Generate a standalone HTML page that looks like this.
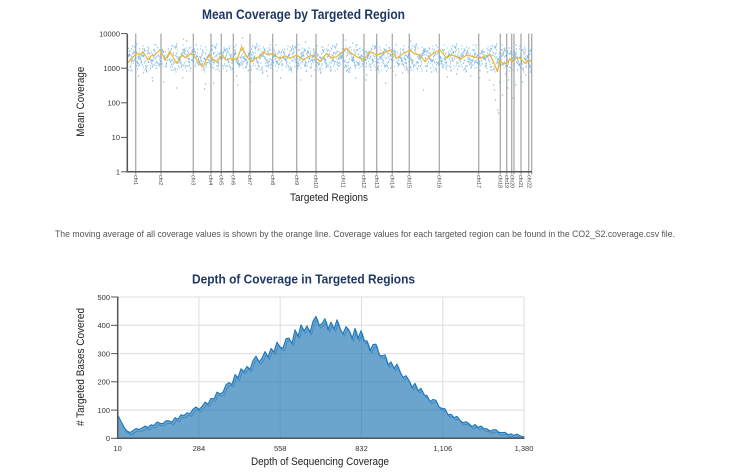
<!DOCTYPE html>
<html><head><meta charset="utf-8">
<style>
html,body{margin:0;padding:0;background:#fff;}
svg{display:block;font-family:"Liberation Sans",Arial,sans-serif;}
</style></head>
<body>
<svg width="736" height="475" viewBox="0 0 736 475" xmlns="http://www.w3.org/2000/svg">
<defs>
<pattern id="pA" patternUnits="userSpaceOnUse" x="127" y="36" width="40" height="44">
<path fill="none" stroke="#6aaee0" stroke-opacity="0.85" stroke-width="1.2" d="M0 21h1.2M17 14h1.2M34 25h1.2M11 30h1.2M28 18h1.2M5 10h1.2M22 23h1.2M39 27h1.2M16 16h1.2M33 22h1.2M10 33h1.2M27 19h1.2M4 13h1.2M21 26h1.2M38 24h1.2M15 17h1.2M32 28h1.2M9 8h1.2M26 21h1.2M3 31h1.2M20 15h1.2M37 23h1.2M14 20h1.2M31 29h1.2M8 12h1.2M25 25h1.2M2 18h1.2M19 35h1.2M36 16h1.2M13 22h1.2M30 27h1.2M7 11h1.2M24 24h1.2M1 19h1.2M18 30h1.2M35 14h1.2M12 21h1.2M29 26h1.2M6 17h1.2M23 32h1.2M0.5 20h1.2M17.5 15h1.2M34.5 28h1.2M11.5 23h1.2M28.5 9h1.2M5.5 25h1.2M22.5 18h1.2M39.5 29h1.2M16.5 13h1.2M33.5 22h1.2M10.5 27h1.2M27.5 16h1.2M4.5 24h1.2M21.5 12h1.2M38.5 31h1.2M15.5 19h1.2M32.5 21h1.2M9.5 26h1.2M26.5 14h1.2M3.5 34h1.2M20.5 17h1.2M37.5 23h1.2M14.5 20h1.2M31.5 28h1.2M8.5 10h1.2M25.5 24h1.2M2.5 15h1.2M19.5 30h1.2M36.5 22h1.2M13.5 18h1.2"/>
</pattern>
<pattern id="pB" patternUnits="userSpaceOnUse" x="140" y="36" width="29" height="44">
<path fill="none" stroke="#6aaee0" stroke-opacity="0.85" stroke-width="1.2" transform="matrix(0.725 0 0 -1 0 44)" d="M0 21h1.2M17 14h1.2M34 25h1.2M11 30h1.2M28 18h1.2M5 10h1.2M22 23h1.2M39 27h1.2M16 16h1.2M33 22h1.2M10 33h1.2M27 19h1.2M4 13h1.2M21 26h1.2M38 24h1.2M15 17h1.2M32 28h1.2M9 8h1.2M26 21h1.2M3 31h1.2M20 15h1.2M37 23h1.2M14 20h1.2M31 29h1.2M8 12h1.2M25 25h1.2M2 18h1.2M19 35h1.2M36 16h1.2M13 22h1.2M30 27h1.2M7 11h1.2M24 24h1.2M1 19h1.2M18 30h1.2M35 14h1.2M12 21h1.2M29 26h1.2M6 17h1.2M23 32h1.2M0.5 20h1.2M17.5 15h1.2M34.5 28h1.2M11.5 23h1.2M28.5 9h1.2M5.5 25h1.2M22.5 18h1.2M39.5 29h1.2M16.5 13h1.2M33.5 22h1.2M10.5 27h1.2M27.5 16h1.2M4.5 24h1.2M21.5 12h1.2M38.5 31h1.2M15.5 19h1.2M32.5 21h1.2M9.5 26h1.2M26.5 14h1.2M3.5 34h1.2M20.5 17h1.2M37.5 23h1.2M14.5 20h1.2M31.5 28h1.2M8.5 10h1.2M25.5 24h1.2M2.5 15h1.2M19.5 30h1.2M36.5 22h1.2M13.5 18h1.2"/>
</pattern>
<pattern id="pC" patternUnits="userSpaceOnUse" x="133" y="36" width="33" height="44">
<path fill="none" stroke="#6aaee0" stroke-opacity="0.8" stroke-width="1.2" transform="matrix(-0.825 0 0 0.85 33 4.3)" d="M0 21h1.2M17 14h1.2M34 25h1.2M11 30h1.2M28 18h1.2M5 10h1.2M22 23h1.2M39 27h1.2M16 16h1.2M33 22h1.2M10 33h1.2M27 19h1.2M4 13h1.2M21 26h1.2M38 24h1.2M15 17h1.2M32 28h1.2M9 8h1.2M26 21h1.2M3 31h1.2M20 15h1.2M37 23h1.2M14 20h1.2M31 29h1.2M8 12h1.2M25 25h1.2M2 18h1.2M19 35h1.2M36 16h1.2M13 22h1.2M30 27h1.2M7 11h1.2M24 24h1.2M1 19h1.2M18 30h1.2M35 14h1.2M12 21h1.2M29 26h1.2M6 17h1.2M23 32h1.2"/>
</pattern>
</defs>
<rect width="736" height="475" fill="#fff"/>

<!-- ===== TOP CHART ===== -->
<text x="202" y="19" font-size="13.5" font-weight="bold" fill="#1f3864" textLength="203" lengthAdjust="spacingAndGlyphs">Mean Coverage by Targeted Region</text>

<g stroke="#aaaaaa" stroke-width="1.3">
<line x1="135.7" y1="33.6" x2="135.7" y2="174.5"/>
<line x1="161" y1="33.6" x2="161" y2="174.5"/>
<line x1="193.3" y1="33.6" x2="193.3" y2="174.5"/>
<line x1="211" y1="33.6" x2="211" y2="174.5"/>
<line x1="221.3" y1="33.6" x2="221.3" y2="174.5"/>
<line x1="233.3" y1="33.6" x2="233.3" y2="174.5"/>
<line x1="250" y1="33.6" x2="250" y2="174.5"/>
<line x1="272.7" y1="33.6" x2="272.7" y2="174.5"/>
<line x1="296.7" y1="33.6" x2="296.7" y2="174.5"/>
<line x1="316" y1="33.6" x2="316" y2="174.5"/>
<line x1="343.2" y1="33.6" x2="343.2" y2="174.5"/>
<line x1="364" y1="33.6" x2="364" y2="174.5"/>
<line x1="376.7" y1="33.6" x2="376.7" y2="174.5"/>
<line x1="392.3" y1="33.6" x2="392.3" y2="174.5"/>
<line x1="409.3" y1="33.6" x2="409.3" y2="174.5"/>
<line x1="439.3" y1="33.6" x2="439.3" y2="174.5"/>
<line x1="478.7" y1="33.6" x2="478.7" y2="174.5"/>
<line x1="500.3" y1="33.6" x2="500.3" y2="174.5"/>
<line x1="506.7" y1="33.6" x2="506.7" y2="174.5"/>
<line x1="511.7" y1="33.6" x2="511.7" y2="174.5"/>
<line x1="514" y1="33.6" x2="514" y2="174.5"/>
<line x1="521" y1="33.6" x2="521" y2="174.5"/>
<line x1="528.7" y1="33.6" x2="528.7" y2="174.5"/>
<line x1="531.7" y1="33.6" x2="531.7" y2="174.5"/>
</g>

<rect x="127.5" y="36" width="404.5" height="44" fill="url(#pA)"/>
<rect x="127.5" y="36" width="404.5" height="44" fill="url(#pB)"/>
<rect x="127.5" y="36" width="404.5" height="44" fill="url(#pC)"/>
<path fill="none" stroke="#6aaee0" stroke-opacity="0.85" stroke-width="1.2" d="M151.7 78h1.2M176 88h1.2M152 81h1.2M143 73h1.2M205 84h1.2M204 89h1.2M213 83h1.2M236 76h1.2M233 80h1.2M182 78h1.2M237 85h1.2M494 90h1.2M495 100h1.2M497 110h1.2M498 113h1.2M502 95h1.2M507 88h1.2M512 98h1.2M508 80h1.2M515 85h1.2M520 77h1.2M525 75h1.2M499 82h1.2M489 80h1.2M423 90h1.2M385 83h1.2M365 80h1.2M366 75h1.2M355 78h1.2M300 80h1.2M280 78h1.2M320 73h1.2M330 71h1.2M250 82h1.2M267 76h1.2M395 75h1.2M183 39h1.2M186 41h1.2M242 38h1.2M305 42h1.2M272 40h1.2M352 43h1.2M376 42h1.2M410 41h1.2M345 40h1.2M163 82h1.2M138 76h1.2M456 74h1.2M470 76h1.2M487 72h1.2M505 74h1.2M530 72h1.2M128 70h1.2M221 75h1.2M262 73h1.2M311 76h1.2M348 72h1.2M402 73h1.2M431 72h1.2M447 77h1.2M517 70h1.2M522 82h1.2M493 85h1.2M479 78h1.2"/>

<polyline fill="none" stroke="#f0b428" stroke-width="1.2" stroke-linejoin="round" points="128,62.7 132,58 136.7,53.3 140,55 143,51.7 148,60 151,56 155,55 160,50 165,60 170,51.7 173,57 176.7,63.3 181.7,55 186,58 190,54 193.3,55 198.3,61.7 203.3,66.7 206,60 210,55 213,59 216.7,61.7 221.7,55 226,60 231,58 237,60 241.7,46.7 246.7,56.7 251.7,61.7 256,58 260,56.7 263.3,51.7 268,55 273.3,53.3 277,57 280,58.3 285,56 290,58.3 296.7,55 303.3,60 308,57 313.3,55 320,61.7 326.7,53.3 331,58 336.7,56.7 341,53 346.7,48.3 351,53 356.7,56.7 363.3,60 370,51.7 376.7,55 383.3,53.3 390,50 396.7,58.3 401,55 406.7,51.7 410,50 415,54 420,55 425,61.7 429,57 433.3,53.3 440,50 446.7,58.3 451,55 456.7,56.7 461,59 466.7,55 473.3,56.7 480,58.3 485,56 490,55 495,65 497.3,71.7 500,60 503,64 506.7,63.3 510,59 513.3,61.7 517,57 520,58.3 525,63.3 528,60 531.7,61.7"/>

<!-- axes -->
<g stroke="#555" stroke-width="1.5" fill="none">
  <line x1="127.3" y1="33.6" x2="127.3" y2="172.5"/>
  <line x1="126.5" y1="171.8" x2="532" y2="171.8"/>
</g>
<g stroke="#555" stroke-width="1">
  <line x1="121" y1="33.6" x2="127" y2="33.6"/>
  <line x1="121" y1="68.2" x2="127" y2="68.2"/>
  <line x1="121" y1="102.8" x2="127" y2="102.8"/>
  <line x1="121" y1="137.4" x2="127" y2="137.4"/>
  <line x1="121" y1="171.8" x2="127" y2="171.8"/>
</g>
<g font-size="7.5" fill="#333" text-anchor="end">
  <text x="120" y="36.4">10000</text>
  <text x="120" y="71">1000</text>
  <text x="120" y="105.6">100</text>
  <text x="120" y="140.2">10</text>
  <text x="120" y="174.6">1</text>
</g>
<g font-size="5.2" fill="#444">
<text transform="translate(133.9,175) rotate(90)">chr1</text>
<text transform="translate(159.2,175) rotate(90)">chr2</text>
<text transform="translate(191.5,175) rotate(90)">chr3</text>
<text transform="translate(209.2,175) rotate(90)">chr4</text>
<text transform="translate(219.5,175) rotate(90)">chr5</text>
<text transform="translate(231.5,175) rotate(90)">chr6</text>
<text transform="translate(248.2,175) rotate(90)">chr7</text>
<text transform="translate(270.9,175) rotate(90)">chr8</text>
<text transform="translate(294.9,175) rotate(90)">chr9</text>
<text transform="translate(314.2,175) rotate(90)">chr10</text>
<text transform="translate(341.4,175) rotate(90)">chr11</text>
<text transform="translate(362.2,175) rotate(90)">chr12</text>
<text transform="translate(374.9,175) rotate(90)">chr13</text>
<text transform="translate(390.5,175) rotate(90)">chr14</text>
<text transform="translate(407.5,175) rotate(90)">chr15</text>
<text transform="translate(437.5,175) rotate(90)">chr16</text>
<text transform="translate(476.9,175) rotate(90)">chr17</text>
<text transform="translate(498.5,175) rotate(90)">chr18</text>
<text transform="translate(504.9,175) rotate(90)">chr19</text>
<text transform="translate(510.5,175) rotate(90)">chr20</text>
<text transform="translate(518.9,175) rotate(90)">chr21</text>
<text transform="translate(527.5,175) rotate(90)">chr22</text>
</g>

<text transform="translate(84,101.7) rotate(-90)" text-anchor="middle" font-size="11" fill="#222" textLength="70" lengthAdjust="spacingAndGlyphs">Mean Coverage</text>
<text x="290" y="201" font-size="11" fill="#222" textLength="78" lengthAdjust="spacingAndGlyphs">Targeted Regions</text>

<!-- paragraph -->
<text x="55" y="237" font-size="9" fill="#555" textLength="620" lengthAdjust="spacingAndGlyphs">The moving average of all coverage values is shown by the orange line. Coverage values for each targeted region can be found in the CO2_S2.coverage.csv file.</text>

<!-- ===== BOTTOM CHART ===== -->
<text x="192" y="283.3" font-size="13" font-weight="bold" fill="#1f3864" textLength="223" lengthAdjust="spacingAndGlyphs">Depth of Coverage in Targeted Regions</text>

<g stroke="#dedede" stroke-width="1">
  <line x1="117.7" y1="297" x2="524.3" y2="297"/>
  <line x1="117.7" y1="325.3" x2="524.3" y2="325.3"/>
  <line x1="117.7" y1="353.6" x2="524.3" y2="353.6"/>
  <line x1="117.7" y1="381.8" x2="524.3" y2="381.8"/>
  <line x1="117.7" y1="410.1" x2="524.3" y2="410.1"/>
  <line x1="198.9" y1="297" x2="198.9" y2="438.3"/>
  <line x1="280.2" y1="297" x2="280.2" y2="438.3"/>
  <line x1="361.5" y1="297" x2="361.5" y2="438.3"/>
  <line x1="442.8" y1="297" x2="442.8" y2="438.3"/>
  <line x1="524" y1="297" x2="524" y2="438.3"/>
</g>

<path fill="rgb(31,119,180)" fill-opacity="0.66" stroke="none"
 d="M117.7 438.3 L117.7 412.9 L118 415.4 L121 421.2 L124 427.5 L127 430.9 L130 432.5 L133 430.5 L136 428.5 L139 429.4 L142 428 L145 426 L148 427.5 L151 424.8 L154 425.4 L157 422 L160 423.2 L163 423.5 L166 420.8 L169 420.8 L172 422.1 L175 417.5 L178 419.2 L181 414.7 L184 415.6 L187 412.7 L190 413.8 L193 409.2 L196 406.9 L199 409.5 L202 406.4 L205 402.1 L208 404.1 L211 398.4 L214 399 L217 392.1 L220 393.8 L223 392.3 L226 384.7 L229 382.5 L232 384.4 L235 374.5 L238 377.7 L241 368.7 L244 371.4 L247 366.4 L250 369.4 L253 360.5 L256 356.1 L259 362 L262 358.1 L265 351.5 L268 357.1 L271 348.4 L274 351.9 L277 342 L280 347.1 L283 348.1 L286 338.6 L289 338.1 L292 343.4 L295 329.7 L298 336.5 L301 324.7 L304 331.1 L307 325.8 L310 332.4 L313 321.1 L316 316.3 L319 325.7 L322 323.5 L325 318.7 L328 329.6 L331 322.1 L334 329 L337 319.8 L340 329 L343 333.6 L346 326.6 L349 329.9 L352 338.8 L355 328.3 L358 338.7 L361 330.6 L364 341 L367 340.7 L370 350.7 L373 344.5 L376 344.1 L379 355 L382 355.9 L385 354.8 L388 365.1 L391 361.8 L394 368.5 L397 364 L400 372 L403 377.4 L406 375.7 L409 380.3 L412 387.6 L415 383.3 L418 390.9 L421 388.2 L424 394.8 L427 395.5 L430 401.6 L433 399.4 L436 400.4 L439 406.8 L442 408.4 L445 408.8 L448 414.7 L451 414.2 L454 417.6 L457 416.3 L460 420.3 L463 422.6 L466 421.7 L469 423.6 L472 426.6 L475 424.4 L478 427.4 L481 426 L484 428.6 L487 428.7 L490 431.1 L493 429.8 L496 429.8 L499 432.4 L502 432.6 L505 432.3 L508 434.7 L511 433.8 L514 435.3 L517 434 L520 435.7 L523 436.7 L524.3 436.5 L524.3 438.3 Z"/>
<path fill="none" stroke="rgb(25,115,185)" stroke-width="1" stroke-linejoin="round"
 d="M117.7 412.9 L118 415.4 L121 421.2 L124 427.5 L127 430.9 L130 432.5 L133 430.5 L136 428.5 L139 429.4 L142 428 L145 426 L148 427.5 L151 424.8 L154 425.4 L157 422 L160 423.2 L163 423.5 L166 420.8 L169 420.8 L172 422.1 L175 417.5 L178 419.2 L181 414.7 L184 415.6 L187 412.7 L190 413.8 L193 409.2 L196 406.9 L199 409.5 L202 406.4 L205 402.1 L208 404.1 L211 398.4 L214 399 L217 392.1 L220 393.8 L223 392.3 L226 384.7 L229 382.5 L232 384.4 L235 374.5 L238 377.7 L241 368.7 L244 371.4 L247 366.4 L250 369.4 L253 360.5 L256 356.1 L259 362 L262 358.1 L265 351.5 L268 357.1 L271 348.4 L274 351.9 L277 342 L280 347.1 L283 348.1 L286 338.6 L289 338.1 L292 343.4 L295 329.7 L298 336.5 L301 324.7 L304 331.1 L307 325.8 L310 332.4 L313 321.1 L316 316.3 L319 325.7 L322 323.5 L325 318.7 L328 329.6 L331 322.1 L334 329 L337 319.8 L340 329 L343 333.6 L346 326.6 L349 329.9 L352 338.8 L355 328.3 L358 338.7 L361 330.6 L364 341 L367 340.7 L370 350.7 L373 344.5 L376 344.1 L379 355 L382 355.9 L385 354.8 L388 365.1 L391 361.8 L394 368.5 L397 364 L400 372 L403 377.4 L406 375.7 L409 380.3 L412 387.6 L415 383.3 L418 390.9 L421 388.2 L424 394.8 L427 395.5 L430 401.6 L433 399.4 L436 400.4 L439 406.8 L442 408.4 L445 408.8 L448 414.7 L451 414.2 L454 417.6 L457 416.3 L460 420.3 L463 422.6 L466 421.7 L469 423.6 L472 426.6 L475 424.4 L478 427.4 L481 426 L484 428.6 L487 428.7 L490 431.1 L493 429.8 L496 429.8 L499 432.4 L502 432.6 L505 432.3 L508 434.7 L511 433.8 L514 435.3 L517 434 L520 435.7 L523 436.7 L524.3 436.5"/>
<path fill="none" stroke="rgb(25,115,185)" stroke-width="0.8" stroke-opacity="0.6" stroke-linejoin="round" transform="translate(1.5,2.5)"
 d="M121 421.2 L124 427.5 L127 430.9 L130 432.5 L133 430.5 L136 428.5 L139 429.4 L142 428 L145 426 L148 427.5 L151 424.8 L154 425.4 L157 422 L160 423.2 L163 423.5 L166 420.8 L169 420.8 L172 422.1 L175 417.5 L178 419.2 L181 414.7 L184 415.6 L187 412.7 L190 413.8 L193 409.2 L196 406.9 L199 409.5 L202 406.4 L205 402.1 L208 404.1 L211 398.4 L214 399 L217 392.1 L220 393.8 L223 392.3 L226 384.7 L229 382.5 L232 384.4 L235 374.5 L238 377.7 L241 368.7 L244 371.4 L247 366.4 L250 369.4 L253 360.5 L256 356.1 L259 362 L262 358.1 L265 351.5 L268 357.1 L271 348.4 L274 351.9 L277 342 L280 347.1 L283 348.1 L286 338.6 L289 338.1 L292 343.4 L295 329.7 L298 336.5 L301 324.7 L304 331.1 L307 325.8 L310 332.4 L313 321.1 L316 316.3 L319 325.7 L322 323.5 L325 318.7 L328 329.6 L331 322.1 L334 329 L337 319.8 L340 329 L343 333.6 L346 326.6 L349 329.9 L352 338.8 L355 328.3 L358 338.7 L361 330.6 L364 341 L367 340.7 L370 350.7 L373 344.5 L376 344.1 L379 355 L382 355.9 L385 354.8 L388 365.1 L391 361.8 L394 368.5 L397 364 L400 372 L403 377.4 L406 375.7 L409 380.3 L412 387.6 L415 383.3 L418 390.9 L421 388.2 L424 394.8 L427 395.5 L430 401.6 L433 399.4 L436 400.4 L439 406.8 L442 408.4 L445 408.8 L448 414.7 L451 414.2 L454 417.6 L457 416.3 L460 420.3 L463 422.6 L466 421.7 L469 423.6 L472 426.6 L475 424.4 L478 427.4 L481 426 L484 428.6 L487 428.7 L490 431.1 L493 429.8 L496 429.8 L499 432.4 L502 432.6 L505 432.3 L508 434.7 L511 433.8 L514 435.3 L517 434 L520 435.7"/>

<g stroke="#555" stroke-width="1.5" fill="none">
  <line x1="117.7" y1="296.5" x2="117.7" y2="439"/>
  <line x1="117" y1="438.3" x2="524.5" y2="438.3"/>
</g>
<g stroke="#555" stroke-width="1">
  <line x1="111" y1="297" x2="117.7" y2="297"/>
  <line x1="111" y1="325.3" x2="117.7" y2="325.3"/>
  <line x1="111" y1="353.6" x2="117.7" y2="353.6"/>
  <line x1="111" y1="381.8" x2="117.7" y2="381.8"/>
  <line x1="111" y1="410.1" x2="117.7" y2="410.1"/>
  <line x1="111" y1="438.3" x2="117.7" y2="438.3"/>
</g>
<g font-size="7.5" fill="#333" text-anchor="end">
  <text x="110" y="299.8">500</text>
  <text x="110" y="328.1">400</text>
  <text x="110" y="356.4">300</text>
  <text x="110" y="384.6">200</text>
  <text x="110" y="412.9">100</text>
  <text x="110" y="441.1">0</text>
</g>
<g font-size="7.5" fill="#333" text-anchor="middle">
  <text x="117.7" y="451">10</text>
  <text x="198.9" y="451">284</text>
  <text x="280.2" y="451">558</text>
  <text x="361.5" y="451">832</text>
  <text x="442.8" y="451">1,106</text>
  <text x="524" y="451">1,380</text>
</g>

<text transform="translate(84,367) rotate(-90)" text-anchor="middle" font-size="11" fill="#222" textLength="118" lengthAdjust="spacingAndGlyphs"># Targeted Bases Covered</text>
<text x="251" y="465" font-size="11" fill="#222" textLength="138" lengthAdjust="spacingAndGlyphs">Depth of Sequencing Coverage</text>
</svg>
</body></html>
